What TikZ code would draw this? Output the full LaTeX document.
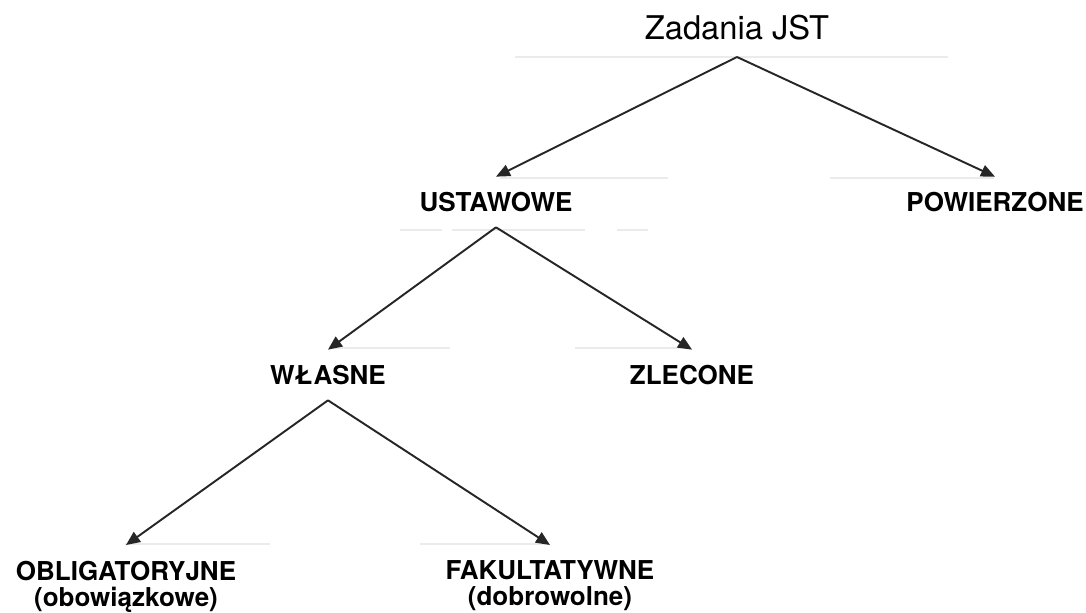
\documentclass[tikz,border=0pt]{standalone}
\usepackage{fontspec}
\setmainfont{TeX Gyre Heros}
\usetikzlibrary{arrows.meta}
\begin{document}
\begin{tikzpicture}[x=0.75pt,y=-0.75pt,
  ttl/.style={font=\fontsize{24.5}{28}\selectfont, inner sep=0pt,
    text height=17.5pt, text depth=0pt, outer ysep=13pt},
  lbl/.style={font=\fontsize{19.5}{18}\selectfont\bfseries, inner sep=0pt,
    text height=14pt, text depth=0pt, outer ysep=12pt},
  lbltwo/.style={font=\fontsize{19.5}{19.5}\selectfont\bfseries, inner sep=0pt,
    align=center, anchor=north, outer ysep=12pt},
  link/.style={line width=1.45pt, draw=black!85,
    -{Triangle[length=10.5pt,width=9pt]}},
  trace/.style={line width=1.6pt, draw=black!8}]
\useasboundingbox (0,0) rectangle (1086,613);

% faint guide strokes left under each level
\draw[trace] (515,57) -- (948,57);
\draw[trace] (500,178) -- (668,178);
\draw[trace] (830,178) -- (994,178);
\draw[trace] (400,230) -- (442,230);
\draw[trace] (452,230) -- (585,230);
\draw[trace] (617,230) -- (648,230);
\draw[trace] (330,348) -- (450,348);
\draw[trace] (575,348) -- (690,348);
\draw[trace] (125,544) -- (270,544);
\draw[trace] (420,544) -- (548,544);

% tree nodes
\node[ttl] (root) at (737,28) {Zadania JST};
\node[lbl] (ust) at (496,202) {USTAWOWE};
\node[lbl] (pow) at (995,202) {POWIERZONE};
\node[lbl] (wl)  at (328,375) {WŁASNE};
\node[lbl] (zl)  at (692,375) {ZLECONE};
\node[lbltwo] (obl) at (126,545) {OBLIGATORYJNE\\(obowiązkowe)};
\node[lbltwo] (fak) at (550,545) {FAKULTATYWNE\\(dobrowolne)};

% connectors
\draw[link] (root.south) -- (ust.north);
\draw[link] (root.south) -- (pow.north);
\draw[link] (ust.south) -- (wl.north);
\draw[link] (ust.south) -- (zl.north);
\draw[link] (wl.south) -- (obl.north);
\draw[link] (wl.south) -- (fak.north);
\end{tikzpicture}
\end{document}
